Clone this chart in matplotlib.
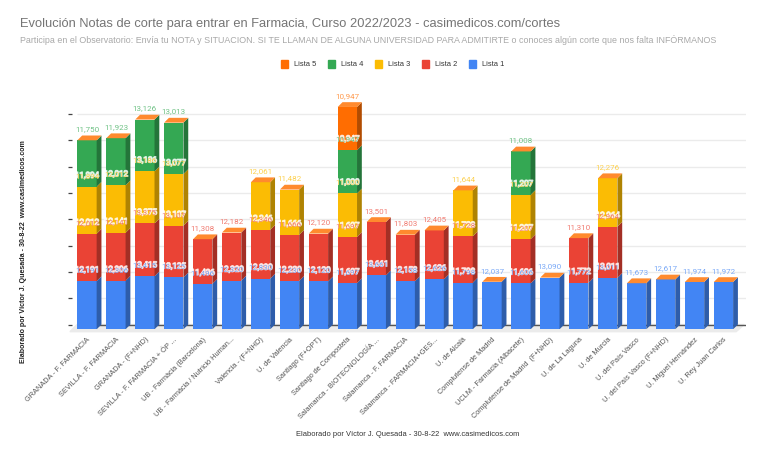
import matplotlib
matplotlib.use("Agg")
import matplotlib.pyplot as plt
import matplotlib.patheffects as pe
from matplotlib.patches import Polygon, Patch
import numpy as np

plt.rcParams['font.family'] = ['Liberation Sans', 'DejaVu Sans']

# centros / universidades
centros = ["GRANADA - F. FARMACIA", "SEVILLA - F. FARMACIA", "GRANADA - (F+NHD)",
           "SEVILLA - F. FARMACIA + ÓP ...", "UB - Farmàcia (Barcelona)",
           "UB - Farmàcia / Nutrició Human...", "Valencia - (F+NHD)", "U. de Valencia",
           "Santiago (F+OPT)", "Santiago de Compostela", "Salamanca - BIOTECNOLOGÍA ...",
           "Salamanca - F. FARMACIA", "Salamanca - FARMACIA+GES...", "U. de Alcalá",
           "Complutense de Madrid", "UCLM - Farmacia (Albacete)",
           "Complutense de Madrid  (F+NHD)", "U. de La Laguna", "U. de Murcia",
           "U. del País Vasco", "U. del País Vasco (F+NHD)", "U. Miguel Hernández",
           "U. Rey Juan Carlos"]

# notas de corte por lista (0 = sin dato)
lista1 = [12.191, 12.306, 13.415, 13.125, 11.496, 12.320, 12.830, 12.230, 12.120, 11.697, 13.661, 12.158,
          12.626, 11.798, 12.037, 11.606, 13.090, 11.772, 13.011, 11.673, 12.617, 11.974, 11.972]
lista2 = [12.012, 12.141, 13.375, 13.107, 11.308, 12.182, 12.346, 11.666, 12.120, 11.697, 13.501, 11.803,
          12.405, 11.728, 0, 11.207, 0, 11.310, 12.964, 0, 0, 0, 0]
lista3 = [11.894, 12.012, 13.186, 13.077, 0, 0, 12.061, 11.482, 0, 11.000, 0, 0,
          0, 11.644, 0, 11.207, 0, 0, 12.276, 0, 0, 0, 0]
lista4 = [11.750, 11.923, 13.126, 13.013, 0, 0, 0, 0, 0, 10.947, 0, 0,
          0, 0, 0, 11.008, 0, 0, 0, 0, 0, 0, 0]
lista5 = [0, 0, 0, 0, 0, 0, 0, 0, 0, 10.947, 0, 0,
          0, 0, 0, 0, 0, 0, 0, 0, 0, 0, 0]

series = [lista1, lista2, lista3, lista4, lista5]
nombres = ["Lista 1", "Lista 2", "Lista 3", "Lista 4", "Lista 5"]
colores = ["#4285f4", "#ea4335", "#fbbc04", "#34a853", "#ff6d01"]
# tonos claros para las etiquetas de valor
claros = ["#7aa9f7", "#f17b71", "#fcd04f", "#70c286", "#ff9a4d"]
laterales = ["#2e5daa", "#a32f25", "#af8302", "#24753a", "#b24c01"]
color_tapa = "#ff8a2e"

# escala en pixeles de la imagen
W, H = 768, 454
base_px = 329.3
paso_x = 28.93
paso_y = 3.95
izq, der, arriba = 72, 746, 100
x0_px = 87
dx = 4.8 / paso_x
dy = 4.8 / paso_y
ancho = 19.3 / paso_x
paso_grid = 26.3 / paso_y
n_grid = 9

fig = plt.figure(figsize=(W / 100, H / 100), dpi=100)
ax = fig.add_axes([izq / W, (H - base_px) / H, (der - izq) / W, (base_px - arriba) / H])
ax.set_xlim((izq - x0_px) / paso_x, (der - x0_px) / paso_x)
ax.set_ylim(0, (base_px - arriba) / paso_y)
for s in ax.spines.values():
    s.set_visible(False)

x = np.arange(len(centros))

# suelo
suelo_x = [-0.59, 22.44, 22.72, -0.34]
suelo_y = [-0.6, -0.6, dy, dy]
ax.add_patch(Polygon(list(zip(suelo_x, suelo_y)), closed=True, color="#ebebeb", clip_on=False, zorder=0))

# rejilla y marcas del eje
marcas = [dy + paso_grid * k for k in range(n_grid)]
ax.hlines(marcas[1:], -0.34, 22.77, color="#ebebeb", linewidth=1, zorder=1)
ax.hlines(marcas[0], -0.34, 22.77, color="#555555", linewidth=1, zorder=1)
ax.set_yticks(marcas)
ax.set_yticklabels([])
ax.tick_params(axis="y", length=3, width=0.9, color="#444444")

# barras con caras laterales
bottom = np.zeros(len(centros))
for i, vals in enumerate(series):
    vals = np.array(vals)
    ax.bar(x, vals, ancho, bottom=bottom, color=colores[i], zorder=3)
    for xi, b, v in zip(x, bottom, vals):
        if v > 0:
            xr = xi + ancho / 2
            ax.add_patch(Polygon([(xr, b), (xr + dx, b + dy), (xr + dx, b + v + dy), (xr, b + v)],
                                 closed=True, color=laterales[i], zorder=3, linewidth=0))
    bottom = bottom + vals

# tapa superior
for xi, t in zip(x, bottom):
    xl = xi - ancho / 2
    ax.add_patch(Polygon([(xl, t), (xl + ancho, t), (xl + ancho + dx, t + dy), (xl + dx, t + dy)],
                         closed=True, color=color_tapa, zorder=4, linewidth=0))

# etiquetas de valor
bottom = np.zeros(len(centros))
for i, vals in enumerate(series):
    bottom = bottom + np.array(vals)
    for j, v in enumerate(vals):
        if v == 0:
            continue
        ultima = all(series[k][j] == 0 for k in range(i + 1, 5))
        etiqueta = "{:.3f}".format(v).replace(".", ",")
        if ultima:
            ax.text(x[j], bottom[j] + 11 / paso_y, etiqueta, ha="center", va="center", fontsize=5.8,
                    color=claros[i], zorder=6, family="Roboto")
        else:
            # halo blanco debajo y texto de color encima
            ax.text(x[j], bottom[j] + 11 / paso_y, etiqueta, ha="center", va="center", fontsize=5.8,
                    color="white", zorder=5.5, family="Roboto", alpha=0.9,
                    path_effects=[pe.Stroke(linewidth=1.0, foreground="white", alpha=0.75)])
            ax.text(x[j], bottom[j] + 11 / paso_y, etiqueta, ha="center", va="center", fontsize=5.8,
                    color=claros[i], zorder=6, family="Roboto")

# etiquetas del eje x
ax.set_xticks(x)
ax.set_xticklabels(centros, rotation=45, ha="right", va="top", rotation_mode="anchor",
                   fontsize=5.3, color="#555555")
ax.tick_params(axis="x", length=0, pad=5)

# textos
fig.text(20 / W, 1 - 24.5 / H, "Evolución Notas de corte para entrar en Farmacia, Curso 2022/2023 - casimedicos.com/cortes",
         fontsize=9.3, color="#757575", va="center")
fig.text(20 / W, 1 - 40 / H, "Participa en el Observatorio: Envía tu NOTA y SITUACION. SI TE LLAMAN DE ALGUNA UNIVERSIDAD PARA ADMITIRTE o conoces algún corte que nos falta INFÓRMANOS",
         fontsize=6.38, color="#a8a8a8", va="center")
fig.text(408 / W, 1 - 435 / H, "Elaborado por Víctor J. Quesada - 30-8-22  www.casimedicos.com",
         fontsize=5.4, color="#333333", ha="center", va="center")
fig.text(23.5 / W, 1 - 252 / H, "Elaborado por Víctor J. Quesada - 30-8-22  www.casimedicos.com",
         fontsize=5.1, color="#222222", ha="center", va="center", rotation=90, fontweight="bold")

# leyenda
handles = [Patch(color=colores[i], label=nombres[i]) for i in range(4, -1, -1)]
fig.legend(handles=handles, loc="center", bbox_to_anchor=(392.5 / W, 1 - 64 / H), ncol=5, frameon=False,
           fontsize=5.4, handlelength=1.0, handleheight=1.3, handletextpad=0.8, columnspacing=1.5,
           labelcolor="#333333")

fig.savefig("out.png", dpi=100)
